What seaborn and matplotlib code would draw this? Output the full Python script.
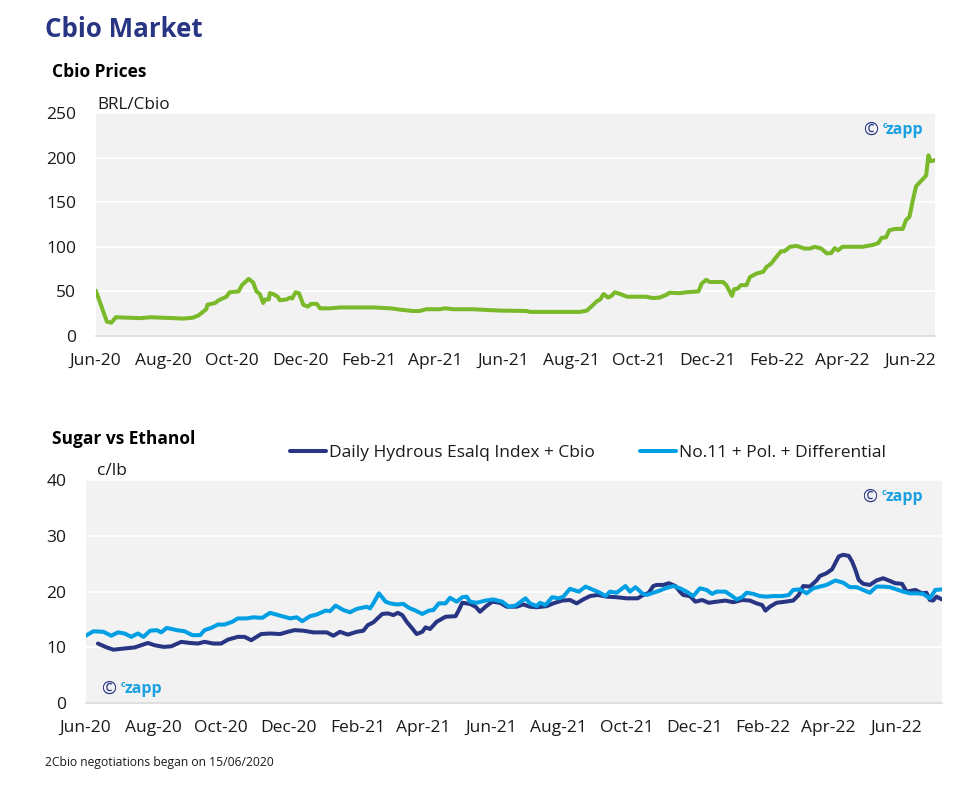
import pandas as pd
import matplotlib.pyplot as plt
import seaborn as sns

# === Data ===
START = pd.Timestamp("2020-06-15")  # Cbio negotiations began on 15/06/2020

# Cbio prices, BRL/Cbio  (days since START)
cbio_day = [0, 10, 14, 18, 40, 49, 70, 78, 87, 92,
            96, 99, 100, 107, 110, 117, 120, 128, 131, 137,
            141, 144, 147, 150, 152, 155, 156, 159, 163, 165,
            171, 174, 176, 179, 182, 186, 190, 193, 198, 201,
            210, 219, 234, 249, 264, 273, 284, 290, 296, 308,
            313, 320, 338, 353, 362, 386, 389, 434, 440, 444,
            449, 452, 455, 459, 462, 465, 470, 476, 493, 499,
            505, 511, 514, 523, 529, 540, 543, 547, 550, 562,
            565, 570, 572, 575, 578, 583, 586, 592, 598, 601,
            605, 610, 614, 617, 622, 628, 635, 640, 644, 650,
            655, 659, 662, 665, 669, 687, 696, 701, 704, 708,
            711, 716, 723, 726, 729, 732, 735, 740, 744, 746,
            748, 752]
cbio_price = [51, 16, 15, 21, 20, 21, 20, 19.5, 20.5, 23,
              27, 30, 35, 37, 40, 44, 49, 50, 57, 64,
              60, 50, 47, 37, 41, 41, 48, 47, 44, 40,
              41, 43, 42, 49, 48, 35, 33, 36, 36, 31,
              31, 32, 32, 32, 31, 29.5, 28, 28, 30, 30,
              31, 30, 30, 29, 28.5, 28, 27, 27, 28.5, 33,
              39, 41, 47, 43, 45, 49, 47, 44, 44, 42.5,
              43, 46, 48.5, 48, 49, 50, 59, 63, 60.5, 60.5,
              57, 45, 52.5, 53, 57, 57, 66, 70, 72, 77.5,
              81, 89, 95, 95, 100, 101, 98, 98, 100, 98,
              92.5, 93, 98.5, 96, 100, 100, 102, 104, 110, 110.5,
              118.5, 120, 120, 130, 133.5, 152, 168, 174.5, 180, 202.5,
              196, 197]

# Sugar vs Ethanol, c/lb
esalq_day = [11, 19, 25, 34, 44, 50, 56, 62, 70, 77,
             86, 94, 101, 107, 115, 122, 128, 137, 143, 149,
             158, 166, 175, 182, 188, 196, 205, 217, 223, 229,
             236, 244, 250, 254, 259, 267, 272, 277, 281, 285,
             289, 294, 298, 303, 306, 310, 316, 324, 333, 336,
             339, 346, 351, 355, 360, 366, 373, 379, 388, 394,
             400, 406, 415, 421, 429, 436, 442, 448, 454, 461,
             469, 478, 487, 497, 502, 507, 511, 514, 520, 525,
             531, 535, 538, 544, 549, 555, 561, 568, 576, 583,
             591, 598, 604, 609, 612, 616, 622, 630, 637, 642,
             646, 652, 658, 661, 667, 672, 678, 682, 687, 690,
             693, 696, 700, 706, 712, 718, 723, 729, 735, 739,
             747, 753, 757, 760, 763, 766, 771]
esalq_value = [10.7, 10.0, 9.6, 9.8, 10.0, 10.4, 10.8, 10.4, 10.1, 10.2,
               11.0, 10.8, 10.7, 11.0, 10.7, 10.7, 11.4, 11.9, 11.9, 11.3,
               12.4, 12.5, 12.4, 12.8, 13.1, 13.0, 12.7, 12.7, 12.1, 12.8,
               12.3, 12.8, 13.0, 14.0, 14.5, 16.0, 16.1, 15.8, 16.2, 15.8,
               14.6, 13.4, 12.4, 12.8, 13.6, 13.3, 14.6, 15.5, 15.6, 16.7,
               18.0, 17.8, 17.3, 16.4, 17.3, 18.2, 18.0, 17.3, 17.3, 17.7,
               17.3, 17.2, 17.4, 17.9, 18.4, 18.5, 17.9, 18.6, 19.2, 19.4,
               19.1, 19.0, 18.8, 18.8, 19.4, 19.8, 21.0, 21.2, 21.2, 21.5,
               21.0, 20.0, 19.4, 19.2, 18.2, 18.5, 18.0, 18.2, 18.4, 18.1,
               18.5, 18.4, 17.9, 17.6, 16.6, 17.3, 18.0, 18.2, 18.4, 19.4,
               21.0, 20.9, 22.0, 22.8, 23.3, 24.0, 26.3, 26.6, 26.4, 25.4,
               23.9, 22.1, 21.4, 21.2, 22.0, 22.4, 22.0, 21.5, 21.4, 20.0,
               20.3, 19.7, 19.8, 18.5, 18.4, 19.1, 18.6]

no11_day = [0, 7, 16, 23, 29, 35, 41, 47, 52, 58,
            64, 68, 73, 82, 89, 96, 103, 107, 113, 119,
            125, 132, 137, 145, 151, 159, 162, 166, 175, 184,
            190, 195, 202, 208, 216, 220, 225, 232, 238, 244,
            253, 256, 259, 264, 270, 274, 280, 286, 291, 297,
            303, 309, 313, 318, 324, 328, 334, 339, 343, 346,
            352, 360, 367, 375, 381, 387, 396, 400, 406, 409,
            414, 420, 426, 430, 436, 444, 450, 456, 463, 468,
            472, 478, 486, 490, 495, 501, 505, 511, 517, 522,
            529, 535, 541, 547, 553, 559, 564, 568, 576, 582,
            586, 591, 595, 601, 607, 613, 619, 627, 633, 637,
            643, 649, 655, 661, 667, 675, 682, 688, 694, 700,
            706, 712, 718, 724, 730, 736, 742, 748, 754, 760,
            765, 771]
no11_value = [12.1, 12.9, 12.8, 12.1, 12.7, 12.5, 11.9, 12.5, 11.9, 13.0,
              13.1, 12.7, 13.5, 13.1, 12.9, 12.2, 12.2, 13.1, 13.5, 14.1,
              14.1, 14.6, 15.2, 15.2, 15.4, 15.3, 15.7, 16.2, 15.7, 15.2,
              15.4, 14.7, 15.6, 15.9, 16.6, 16.5, 17.5, 16.7, 16.3, 16.9,
              17.3, 17.0, 17.9, 19.7, 18.2, 17.9, 17.7, 17.8, 17.1, 16.6,
              16.0, 16.6, 16.7, 17.9, 17.9, 18.9, 18.2, 19.0, 19.1, 18.2,
              18.0, 18.4, 18.6, 18.2, 17.3, 17.5, 18.8, 17.9, 17.4, 18.0,
              17.6, 19.0, 18.8, 19.1, 20.5, 20.0, 20.9, 20.4, 19.8, 19.2,
              20.0, 19.8, 21.0, 20.0, 20.8, 19.7, 19.4, 19.8, 20.2, 20.6,
              21.0, 20.6, 20.0, 19.2, 20.6, 20.3, 19.6, 20.0, 20.0, 19.2,
              18.6, 19.0, 19.8, 19.6, 19.2, 19.1, 19.2, 19.2, 19.4, 20.3,
              20.4, 19.7, 20.6, 20.9, 21.2, 22.0, 21.6, 20.8, 20.8, 20.3,
              19.8, 20.9, 20.9, 20.8, 20.4, 20.0, 19.7, 19.7, 19.6, 18.8,
              20.3, 20.4]

esalq_label = "Daily Hydrous Esalq Index + Cbio"
no11_label = "No.11 + Pol. + Differential"
month_ticks = pd.date_range(START, periods=13, freq=pd.DateOffset(months=2))

# === Style ===
NAVY = "#283583"
LIGHT_BLUE = "#009FE3"
GREEN = "#7AB929"
CZAPP_BLUE = "#1BA1E2"
BG = "#F2F2F2"

sns.set_style("white")
plt.rcParams["font.family"] = ["Open Sans", "DejaVu Sans"]
plt.rcParams["text.color"] = "#1a1a1a"


def to_dates(days):
    return START + pd.to_timedelta(days, unit="D")


def style_axis(ax, ymax, ystep, end_day):
    ax.set_facecolor(BG)
    for side in ["top", "left", "right"]:
        ax.spines[side].set_visible(False)
    ax.spines["bottom"].set_color("#D9D9D9")
    ax.spines["bottom"].set_linewidth(1.2)
    ax.yaxis.grid(True, color="white", linewidth=1.3)
    ax.set_axisbelow(True)
    ax.set_ylim(0, ymax)
    ax.set_yticks(range(0, ymax + 1, ystep))
    ax.set_xlim(START, START + pd.Timedelta(days=end_day))
    ax.set_xticks(month_ticks)
    ax.set_xticklabels([d.strftime("%b-%y") for d in month_ticks])
    ax.tick_params(axis="x", length=5, width=1.2, color="#D9D9D9", pad=7,
                   labelsize=12.5, labelcolor="#1a1a1a")
    ax.tick_params(axis="y", length=0, pad=14, labelsize=12.5, labelcolor="#1a1a1a")
    ax.set_xlabel("")
    ax.set_ylabel("")


def add_watermark(ax, fx, fy):
    # "(c) czapp" logo text
    ax.annotate("©", xy=(fx, fy), xycoords="axes fraction", ha="left", va="center",
                fontsize=13, color=NAVY)
    ax.annotate("c", xy=(fx, fy), xycoords="axes fraction", xytext=(14.0, 1.5),
                textcoords="offset points", ha="left", va="baseline",
                fontsize=6.5, fontweight="bold", color=CZAPP_BLUE)
    ax.annotate("zapp", xy=(fx, fy), xycoords="axes fraction", xytext=(16.6, -3.2),
                textcoords="offset points", ha="left", va="baseline",
                fontsize=11.5, fontweight="bold", color=CZAPP_BLUE)


fig = plt.figure(figsize=(9.76, 7.96), dpi=100)
ax1 = fig.add_axes([0.0981, 0.5779, 0.8600, 0.2802])
ax2 = fig.add_axes([0.0878, 0.1165, 0.8774, 0.2805])

# --- Cbio prices ---
cbio = pd.DataFrame({"date": to_dates(cbio_day), "price": cbio_price})
sns.lineplot(data=cbio, x="date", y="price", color=GREEN, linewidth=2.9, ax=ax1)
style_axis(ax1, 250, 50, 752)
add_watermark(ax1, 0.914, 0.924)

# --- Sugar vs Ethanol ---
esalq = pd.DataFrame({"date": to_dates(esalq_day), "value": esalq_value})
no11 = pd.DataFrame({"date": to_dates(no11_day), "value": no11_value})
sns.lineplot(data=esalq, x="date", y="value", color=NAVY, linewidth=2.9,
             label=esalq_label, ax=ax2)
sns.lineplot(data=no11, x="date", y="value", color=LIGHT_BLUE, linewidth=2.9,
             label=no11_label, ax=ax2)
style_axis(ax2, 40, 10, 771)
add_watermark(ax2, 0.907, 0.924)
add_watermark(ax2, 0.018, 0.064)

handles, labels = ax2.get_legend_handles_labels()
ax2.get_legend().remove()
fig.legend(handles, labels, loc="center left", bbox_to_anchor=(0.297, 0.431),
           ncol=2, frameon=False, fontsize=12.5, handlelength=2.1,
           handletextpad=0.15, columnspacing=2.6, borderpad=0, borderaxespad=0)

# --- Titles and notes ---
fig.text(45 / 976, 1 - 37 / 796, "Cbio Market", fontsize=18.6, fontweight="bold",
         color=NAVY, va="baseline")
fig.text(52 / 976, 1 - 77 / 796, "Cbio Prices", fontsize=12.5, fontweight="bold",
         color="black", va="baseline")
fig.text(97 / 976, 1 - 109 / 796, "BRL/Cbio", fontsize=12.3, va="baseline")
fig.text(52 / 976, 1 - 444 / 796, "Sugar vs Ethanol", fontsize=12.5, fontweight="bold",
         color="black", va="baseline")
fig.text(97 / 976, 1 - 475 / 796, "c/lb", fontsize=12.5, va="baseline")
fig.text(45 / 976, 1 - 766 / 796, "2Cbio negotiations began on 15/06/2020",
         fontsize=8.7, va="baseline")

fig.savefig("out.png", dpi=100)
